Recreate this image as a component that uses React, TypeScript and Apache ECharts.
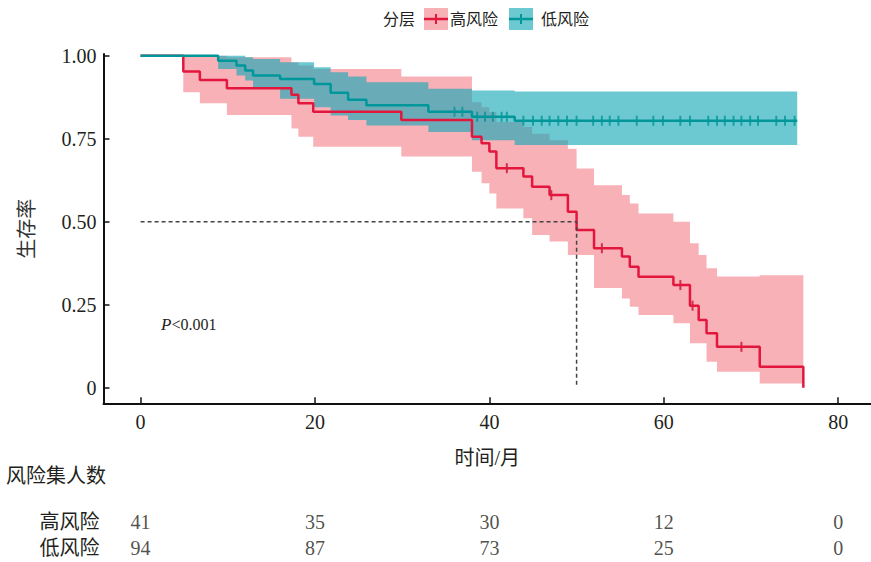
import React, { useEffect, useRef } from 'react';
import * as echarts from 'echarts';

const xTicks = [0, 20, 40, 60, 80];
const yTicks = [0, 0.25, 0.5, 0.75, 1];

// 高风险 (high risk) Kaplan–Meier curve
const highTimes = [0, 4.9, 6.8, 9.9, 17.3, 18.1, 19.8, 29.9, 38.0, 39.1, 40.0, 40.8, 43.9, 44.9, 46.9, 49.0, 50.0, 52.0, 55.2, 56.1, 57.1, 61.1, 63.0, 64.0, 64.9, 66.1, 71.0, 76.0];
const highSurv = [1, 0.952, 0.927, 0.902, 0.882, 0.857, 0.831, 0.806, 0.756, 0.736, 0.711, 0.661, 0.636, 0.605, 0.58, 0.53, 0.475, 0.42, 0.395, 0.364, 0.334, 0.309, 0.247, 0.204, 0.164, 0.123, 0.063, 0];
const highLower = [1, 0.89, 0.857, 0.821, 0.781, 0.756, 0.726, 0.696, 0.65, 0.616, 0.585, 0.54, 0.51, 0.46, 0.44, 0.40, 0.40, 0.30, 0.269, 0.244, 0.219, 0.194, 0.134, 0.134, 0.078, 0.048, 0.013, 0.013];
const highUpper = [1, 1, 1, 0.995, 0.98, 0.97, 0.96, 0.937, 0.86, 0.845, 0.83, 0.80, 0.785, 0.765, 0.745, 0.72, 0.66, 0.61, 0.58, 0.555, 0.525, 0.50, 0.435, 0.40, 0.36, 0.335, 0.339, 0.339];
const highCensor = [42.0, 47.1, 52.9, 61.9, 63.3, 68.9];

// 低风险 (low risk) Kaplan–Meier curve
const lowTimes = [0, 8.9, 11.0, 12.0, 12.9, 16.0, 19.9, 21.8, 23.8, 25.9, 33.0, 38.0, 42.9, 75.3];
const lowSurv = [1, 0.985, 0.97, 0.955, 0.94, 0.93, 0.915, 0.888, 0.867, 0.851, 0.831, 0.816, 0.804, 0.804];
const lowLower = [1, 0.96, 0.94, 0.925, 0.905, 0.87, 0.845, 0.82, 0.806, 0.79, 0.77, 0.745, 0.731, 0.731];
const lowUpper = [1, 1, 1, 0.995, 0.99, 0.98, 0.965, 0.95, 0.937, 0.92, 0.90, 0.895, 0.892, 0.892];
const lowCensor = [36.0, 36.9, 38.6, 39.5, 40.4, 41.4, 42.0, 43.9, 45.0, 46.0, 46.9, 47.9, 48.9, 50.0, 51.9, 52.9, 53.8, 54.8, 56.9, 58.8, 59.9, 61.9, 63.0, 65.1, 66.1, 67.0, 68.0, 68.9, 69.9, 70.8, 72.9, 73.9, 75.0];

const medianTime = 50;
const medianSurv = 0.5;
const pText = '<0.001';

// number at risk table
const riskGroups = ['高风险', '低风险'];
const riskTimes = [0, 20, 40, 60, 80];
const riskHigh = [41, 35, 30, 12, 0];
const riskLow = [94, 87, 73, 25, 0];

const FONT = "'Liberation Serif', 'Noto Sans CJK SC', serif";
const TEXT = '#231f20';
const RED = '#E3173E';
const TEAL = '#00979A';
const RED_BAND = 'rgba(238,59,75,0.4)';
const TEAL_BAND = 'rgba(17,168,180,0.62)';

function survAt(times: number[], surv: number[], t: number) {
  let v = surv[0];
  for (let i = 0; i < times.length; i++) if (times[i] <= t) v = surv[i];
  return v;
}

function stepBand(times: number[], lower: number[], upper: number[]) {
  const top: number[][] = [];
  const bot: number[][] = [];
  for (let i = 0; i < times.length - 1; i++) {
    top.push([times[i], upper[i]], [times[i + 1], upper[i]]);
    bot.push([times[i], lower[i]], [times[i + 1], lower[i]]);
  }
  return top.concat(bot.reverse());
}

function bandSeries(times: number[], lower: number[], upper: number[], fill: string) {
  const poly = stepBand(times, lower, upper);
  return {
    type: 'custom',
    xAxisIndex: 0,
    yAxisIndex: 0,
    silent: true,
    data: [[times[0], lower[0]]],
    renderItem: (params: any, api: any) => {
      if (params.dataIndex !== 0) return null;
      return {
        type: 'polygon',
        shape: { points: poly.map((p) => api.coord(p)) },
        style: { fill },
      };
    },
  };
}

function kmLine(times: number[], surv: number[], color: string) {
  return {
    type: 'line',
    step: 'end',
    xAxisIndex: 0,
    yAxisIndex: 0,
    symbol: 'none',
    silent: true,
    lineStyle: { color, width: 2.5 },
    data: times.map((t, i) => [t, surv[i]]),
  };
}

function censorSeries(cens: number[], times: number[], surv: number[], color: string) {
  return {
    type: 'scatter',
    xAxisIndex: 0,
    yAxisIndex: 0,
    symbol: 'rect',
    symbolSize: [2, 10],
    silent: true,
    itemStyle: { color },
    data: cens.map((t) => [t, survAt(times, surv, t)]),
  };
}

export default function App() {
  const ref = useRef<HTMLDivElement>(null);
  useEffect(() => {
    if (!ref.current) return;
    const chart = echarts.init(ref.current, undefined, { renderer: 'svg' });
    const axisFont = { fontFamily: FONT, fontSize: 20, color: TEXT };
    chart.setOption({
      animation: false,
      backgroundColor: '#fff',
      grid: [
        { left: 103.5, right: 0, top: 54, height: 349.3 },
        { left: 103.5, right: 0, top: 509, height: 52 },
      ],
      xAxis: [
        {
          type: 'value',
          gridIndex: 0,
          min: -4.25,
          max: 83.76,
          splitLine: { show: false },
          axisLine: { onZero: false, lineStyle: { color: '#111', width: 2 } },
          axisTick: { inside: true, length: 6, customValues: xTicks, lineStyle: { color: '#111', width: 1.5 } },
          axisLabel: { ...axisFont, margin: 9, customValues: xTicks },
          name: '时间/月',
          nameLocation: 'middle',
          nameGap: 45,
          nameTextStyle: { ...axisFont },
        },
        {
          type: 'value',
          gridIndex: 1,
          min: -4.25,
          max: 83.76,
          show: false,
        },
      ],
      yAxis: [
        {
          type: 'value',
          gridIndex: 0,
          min: -0.047,
          max: 1.005,
          splitLine: { show: false },
          axisLine: { onZero: false, lineStyle: { color: '#111', width: 2 } },
          axisTick: { inside: true, length: 6, customValues: yTicks, lineStyle: { color: '#111', width: 1.5 } },
          axisLabel: {
            ...axisFont,
            margin: 7,
            customValues: yTicks,
            formatter: (v: number) => (v === 0 ? '0' : v.toFixed(2)),
          },
          name: '生存率',
          nameLocation: 'middle',
          nameRotate: 90,
          nameGap: 67,
          nameTextStyle: { ...axisFont, color: '#333' },
        },
        {
          type: 'category',
          gridIndex: 1,
          data: [riskGroups[1], riskGroups[0]],
          axisLine: { show: false },
          axisTick: { show: false },
          splitLine: { show: false },
          axisLabel: { ...axisFont, margin: 4 },
        },
      ],
      graphic: [
        { type: 'text', left: 6, top: 466, style: { text: '风险集人数', font: `20px ${FONT}`, fill: TEXT } },
        {
          type: 'text',
          x: 161,
          y: 324,
          style: {
            text: '{p|P}{t|' + pText + '}',
            verticalAlign: 'middle',
            rich: {
              p: { fontFamily: FONT, fontStyle: 'italic', fontSize: 17, fill: TEXT, color: TEXT },
              t: { fontFamily: FONT, fontSize: 16, fill: TEXT, color: TEXT },
            },
          },
        },
        { type: 'text', x: 383, y: 19, style: { text: '分层', font: `16px ${FONT}`, fill: TEXT, verticalAlign: 'middle' } },
        { type: 'rect', shape: { x: 424, y: 8, width: 24, height: 22 }, style: { fill: RED_BAND } },
        { type: 'line', shape: { x1: 424, y1: 19, x2: 448, y2: 19 }, style: { stroke: RED, lineWidth: 2.5 } },
        { type: 'line', shape: { x1: 436, y1: 14, x2: 436, y2: 24 }, style: { stroke: RED, lineWidth: 2 } },
        { type: 'text', x: 450, y: 19, style: { text: riskGroups[0], font: `16px ${FONT}`, fill: TEXT, verticalAlign: 'middle' } },
        { type: 'rect', shape: { x: 509, y: 8, width: 24, height: 22 }, style: { fill: TEAL_BAND } },
        { type: 'line', shape: { x1: 509, y1: 19, x2: 533, y2: 19 }, style: { stroke: TEAL, lineWidth: 2.5 } },
        { type: 'line', shape: { x1: 521, y1: 14, x2: 521, y2: 24 }, style: { stroke: TEAL, lineWidth: 2 } },
        { type: 'text', x: 541, y: 19, style: { text: riskGroups[1], font: `16px ${FONT}`, fill: TEXT, verticalAlign: 'middle' } },
      ],
      series: [
        bandSeries(highTimes, highLower, highUpper, RED_BAND),
        kmLine(highTimes, highSurv, RED),
        censorSeries(highCensor, highTimes, highSurv, '#C4122F'),
        {
          type: 'line',
          xAxisIndex: 0,
          yAxisIndex: 0,
          symbol: 'none',
          silent: true,
          lineStyle: { color: '#444', width: 1.5, type: [4, 3] },
          data: [
            [0, medianSurv],
            [medianTime, medianSurv],
            [medianTime, 0],
          ],
        },
        bandSeries(lowTimes, lowLower, lowUpper, TEAL_BAND),
        kmLine(lowTimes, lowSurv, TEAL),
        censorSeries(lowCensor, lowTimes, lowSurv, TEAL),
        {
          type: 'scatter',
          xAxisIndex: 1,
          yAxisIndex: 1,
          symbolSize: 1,
          silent: true,
          itemStyle: { color: 'transparent' },
          label: {
            show: true,
            position: 'inside',
            formatter: (p: any) => String(p.value[2]),
            ...axisFont,
          },
          data: [
            ...riskTimes.map((t, i) => [t, riskGroups[0], riskHigh[i]]),
            ...riskTimes.map((t, i) => [t, riskGroups[1], riskLow[i]]),
          ],
        },
      ],
    });
    return () => chart.dispose();
  }, []);
  return <div ref={ref} style={{ position: 'fixed', left: 0, top: 0, width: 871, height: 562 }} />;
}
